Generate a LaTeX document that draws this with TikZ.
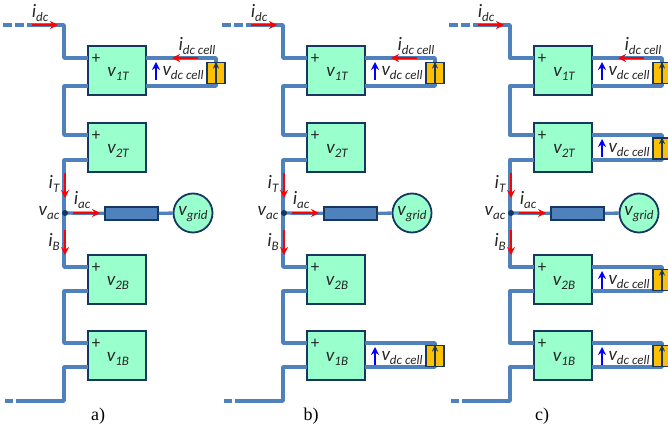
\documentclass[tikz,border=0pt]{standalone}
\usepackage{fontspec}
\setmainfont{Carlito}
\newfontfamily\capfont{Liberation Serif}
\usetikzlibrary{arrows.meta}
\definecolor{wireblue}{HTML}{4F81BD}
\definecolor{edgeblue}{HTML}{17375E}
\definecolor{modgreen}{HTML}{99FFCC}
\definecolor{cellorange}{HTML}{FFC000}
\definecolor{txtgrey}{HTML}{262626}
\tikzset{
  wire/.style={wireblue,line width=3.4pt,line join=round},
  module/.style={draw=edgeblue,fill=modgreen,line width=1.8pt,minimum width=58pt,minimum height=49pt,inner sep=0pt},
  dcbox/.style={draw=edgeblue,fill=cellorange,line width=1.8pt,minimum width=18pt,minimum height=21pt,inner sep=0pt},
  choke/.style={draw=edgeblue,fill=wireblue,line width=1.8pt,minimum width=53pt,minimum height=13pt,inner sep=0pt},
  source/.style={circle,draw=edgeblue,fill=modgreen,line width=1.8pt,minimum size=39pt,inner sep=0pt},
  redarrow/.style={red,line width=2pt,-{Stealth[length=8pt,width=8pt]}},
  bluearrow/.style={blue,line width=1.8pt,-{Stealth[length=8pt,width=8pt]}},
  cellarrow/.style={edgeblue,line width=1.4pt,-{Stealth[length=7pt,width=6pt]}},
  txt/.style={txtgrey,inner sep=0pt,font=\fontsize{19}{19}\selectfont\itshape},
}
% letter with lowered index
\newcommand{\lab}[2]{#1\raisebox{-0.4ex}{\fontsize{13}{13}\selectfont #2}}
% module: name, top, upper terminal, lower terminal, index
\newcommand{\submodule}[5]{
  \node[module] (#1) at (117,#2+24.5) {};
  \node[txt,font=\fontsize{17}{17}\selectfont] (#1-plus) at (96,#2+13) {+};
  \node[txt] (#1-txt) at (118,#2+28) {\lab{v}{#5}};
  \coordinate (#1-pl) at (88,#3);
  \coordinate (#1-nl) at (88,#4);
  \coordinate (#1-pr) at (146,#3);
  \coordinate (#1-nr) at (146,#4);
}
% dc cell on the right of a module: name, upper terminal, lower terminal
\newcommand{\dccell}[3]{
  \coordinate (#1-cp) at (216,#2);
  \coordinate (#1-cn) at (216,#3);
  \draw[wire] (#1-pr) -- (#1-cp) -- (#1-cn) -- (#1-nr);
  \node[dcbox] (#1-cell) at (216,#2/2+#3/2+1) {};
  \draw[cellarrow] (#1-cell.south) -- (#1-cell.north);
  \coordinate (#1-vs) at (156,#2+22);
  \coordinate (#1-ve) at (156,#2+4);
  \draw[bluearrow] (#1-vs) -- (#1-ve);
  \node[txt] (#1-vdc) at (183,#2+15) {\lab{v}{dc cell}};
}
% one arm with its grid connection: caption, caption x
\newcommand{\converter}[2]{
  %Modules
  \submodule{v1T}{46}{58}{86}{1T}
  \submodule{v2T}{123}{135}{160}{2T}
  \submodule{v2B}{255}{267}{291}{2B}
  \submodule{v1B}{331}{343}{367}{1B}
  %Dc bus and arm
  \coordinate (dcin) at (3,25);
  \coordinate (dcmid) at (34,25);
  \coordinate (dctop) at (64,25);
  \coordinate (dcout) at (3,401);
  \coordinate (dcend) at (24,401);
  \coordinate (dcbot) at (64,401);
  \draw[wire,dash pattern=on 9pt off 3pt] (dcin) -- (dcmid);
  \draw[wire] (dcmid) -- (dctop) |- (v1T-pl);
  \draw[wire] (v1T-nl) -| (64,135) -- (v2T-pl);
  \draw[wire] (v2T-nl) -| (64,267) -- (v2B-pl);
  \draw[wire] (v2B-nl) -| (64,343) -- (v1B-pl);
  \draw[wire] (v1B-nl) -| (dcbot) -- (dcend);
  \draw[wire,dash pattern=on 8pt off 3pt] (dcend) -- (dcout);
  %Grid side
  \coordinate (ac) at (65,213);
  \node[choke] (lac) at (131.5,213.5) {};
  \node[source] (grid) at (193,213) {};
  \node[txt] (grid-txt) at (193,214) {\lab{v}{grid}};
  \draw[wire] (ac) -- (lac);
  \draw[wire] (lac) -- (grid);
  \fill[edgeblue] (ac) circle (3pt);
  %Currents
  \coordinate (idc-s) at (32,25);
  \coordinate (idc-e) at (58,25);
  \coordinate (it-s) at (65,173);
  \coordinate (it-e) at (65,198);
  \coordinate (ib-s) at (65,230);
  \coordinate (ib-e) at (65,255);
  \coordinate (iac-s) at (73,213);
  \coordinate (iac-e) at (100,213);
  \draw[redarrow] (idc-s) -- (idc-e);
  \draw[redarrow] (it-s) -- (it-e);
  \draw[redarrow] (ib-s) -- (ib-e);
  \draw[redarrow] (iac-s) -- (iac-e);
  \node[txt] (idc-txt) at (40,13) {\lab{i}{dc}};
  \node[txt] (it-txt) at (54,184) {\lab{i}{T}};
  \node[txt] (ib-txt) at (54,242) {\lab{i}{B}};
  \node[txt] (iac-txt) at (82,200) {\lab{i}{ac}};
  \node[txt] (vac-txt) at (49,213) {\lab{v}{ac}};
  %Caption
  \node[inner sep=0pt,font=\capfont\fontsize{18}{18}\selectfont] (caption) at (#2,416) {#1};
}
% current into the dc cell of the top module
\newcommand{\cellcurrent}{
  \coordinate (icell-s) at (198,58);
  \coordinate (icell-e) at (172,58);
  \draw[redarrow] (icell-s) -- (icell-e);
  \node[txt] (icell-txt) at (197,46) {\lab{i}{dc cell}};
}
\begin{document}
\begin{tikzpicture}[x=1pt,y=-1pt]
  \clip (0,0) rectangle (668,430);
  %Panel a
  \begin{scope}[name prefix=a-]
    \converter{a)}{98}
    \dccell{v1T}{58}{86}
    \cellcurrent
  \end{scope}
  %Panel b
  \begin{scope}[shift={(219,0)},name prefix=b-]
    \converter{b)}{92}
    \dccell{v1T}{58}{86}
    \dccell{v1B}{343}{367}
    \cellcurrent
  \end{scope}
  %Panel c
  \begin{scope}[shift={(446,0)},name prefix=c-]
    \converter{c)}{96}
    \dccell{v1T}{58}{86}
    \dccell{v2T}{135}{160}
    \dccell{v2B}{267}{291}
    \dccell{v1B}{343}{367}
    \cellcurrent
  \end{scope}
\end{tikzpicture}
\end{document}
